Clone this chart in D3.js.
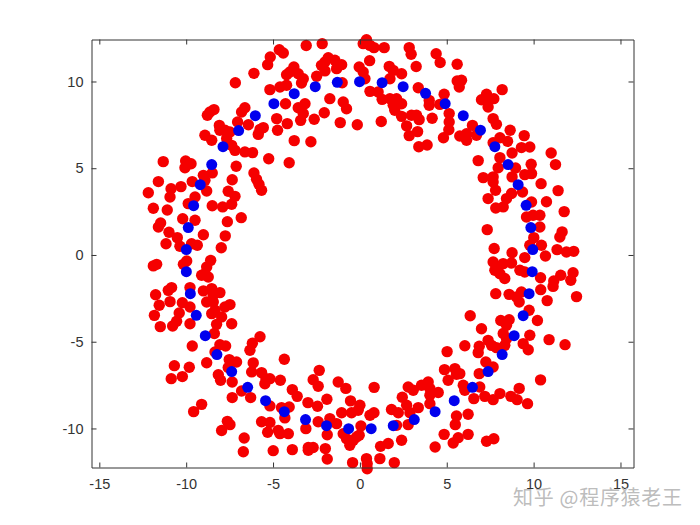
<!DOCTYPE html>
<html><head><meta charset="utf-8">
<script src="https://cdn.jsdelivr.net/npm/d3@7/dist/d3.min.js"></script>
<style>html,body{margin:0;padding:0;background:#fff}svg{display:block}</style>
</head><body><svg id="c" width="700" height="525"></svg>
<script>
const xDomain=[-15.45,15.75];
const yDomain=[-12.25,12.42];
const xTicks=[-15,-10,-5,0,5,10,15];
const yTicks=[-10,-5,0,5,10];
const watermark="知乎 @程序猿老王";
const redX=[-3.09,-2.17,-4.64,-4.41,-5.16,-5.31,-6.10,-7.17,-3.80,-4.03,-4.22,-3.55,-3.26,-3.36,-2.49,-1.82,-2.01,-1.44,-1.05,-2.21,-2.01,-1.34,-1.02,-4.22,-4.60,-5.18,-1.73,-0.96,-0.77,-4.28,-3.16,-3.55,-3.26,-3.41,-2.63,-2.05,-1.13,-4.79,-4.18,-4.74,-3.78,-2.82,-8.40,-8.63,-8.78,-6.62,-6.81,-7.04,-6.42,-5.56,-5.75,-5.85,-8.09,-7.77,-8.06,-7.48,-8.92,-8.53,-7.67,-7.38,-7.19,-6.62,-6.18,-5.25,-4.07,-11.32,-10.03,-9.72,-10.07,-7.12,-8.50,-9.01,-8.92,-6.10,-5.95,-5.81,-5.66,-7.35,-11.60,-10.87,-10.30,-9.65,-8.82,-12.18,-10.93,-7.58,-7.19,-9.49,-9.88,-11.89,-11.09,-8.50,-7.90,-7.38,-6.83,-10.20,-9.49,-7.63,-11.47,-11.60,-10.99,-9.01,-10.51,-7.75,-11.16,-10.36,-9.69,-9.36,-7.98,
0.38,0.19,0.58,0.81,1.40,2.84,2.95,4.39,4.62,5.60,0.56,-0.04,0.19,1.69,1.92,2.40,1.73,3.24,5.85,5.60,5.72,0.29,3.36,4.85,3.99,3.99,4.60,0.58,1.05,1.28,8.19,7.29,7.00,7.38,7.71,7.38,1.73,2.11,2.40,1.92,2.01,2.40,2.97,3.26,3.41,2.69,3.32,2.84,4.16,5.14,5.14,5.12,4.81,1.23,-0.15,7.67,7.86,3.39,3.87,5.75,6.14,6.48,6.14,6.71,8.65,9.46,7.67,8.06,8.50,9.30,9.78,11.01,8.76,6.81,8.06,11.26,9.86,7.96,8.96,9.88,9.49,7.10,7.67,8.76,7.67,10.43,7.81,9.36,11.41,8.73,8.44,7.38,10.74,9.88,8.25,7.82,11.76,9.59,9.97,10.36,10.36,7.33,11.64,11.51,10.01,10.45,9.78,7.73,8.76,11.35,11.89,12.31,10.68,9.49,
-9.97,-10.16,-11.70,-11.89,-8.59,-8.82,-8.92,-9.11,-8.73,-9.78,-10.84,-11.03,-11.76,-9.01,-8.53,-8.06,-8.44,-8.82,-8.44,-10.93,-10.22,-9.78,-11.55,-7.48,-7.77,-8.34,-8.53,-10.40,-11.83,-7.96,-10.55,-10.78,-11.49,-9.78,-7.38,-8.25,-8.38,-5.75,-6.19,-6.33,-8.06,-7.73,-9.65,-8.34,-4.35,-7.10,-7.52,-8.82,-10.68,-9.82,-6.14,-6.23,-7.58,-2.34,-8.15,-8.02,-10.22,-10.86,-5.66,-5.41,-5.18,-5.47,-4.58,-7.35,-2.69,-2.40,-1.25,-0.81,-3.89,-3.61,-6.81,-7.35,-6.29,-1.90,-0.54,-2.99,-2.44,-5.18,-4.07,-4.51,-9.11,-9.57,-1.05,-0.48,-0.10,-4.32,-5.66,-5.18,-7.63,-7.48,-7.96,-2.40,-1.73,-1.34,-3.11,-5.31,-4.70,-4.60,-4.12,-1.88,-6.66,-0.96,-0.77,-0.38,-0.58,-0.19,-2.97,-2.69,-2.97,-3.89,-4.99,-6.71,-1.99,-1.88,-0.42,
7.67,7.96,8.25,8.73,7.77,8.06,8.34,9.21,9.49,10.40,11.56,12.27,11.16,11.12,12.14,10.41,7.82,8.59,9.30,9.01,9.17,10.78,12.47,9.74,6.35,10.22,8.11,8.59,7.00,8.44,8.25,9.78,8.44,10.89,11.81,7.38,7.58,7.86,8.34,9.40,9.69,6.04,6.87,6.81,5.02,7.25,7.67,4.87,5.47,5.56,5.75,6.87,5.08,10.40,5.95,6.04,6.90,9.17,8.06,7.19,7.67,6.56,8.69,9.05,9.65,0.82,2.78,3.07,3.93,3.55,4.03,4.51,4.03,4.03,3.36,2.44,2.69,1.82,2.21,2.88,6.23,5.56,5.49,0.58,0.81,0.00,0.06,2.11,2.78,4.85,6.23,5.66,5.37,7.29,7.71,2.40,1.63,1.19,4.33,-0.04,1.15,1.98,0.38,0.42,0.42];
const redY=[12.07,12.18,11.83,11.64,11.41,10.97,10.47,9.93,10.84,10.55,10.39,10.45,10.16,9.91,10.30,11.37,11.12,11.22,10.97,10.93,10.61,10.74,9.93,9.78,9.68,9.53,9.01,8.82,8.43,8.72,8.72,8.49,8.15,7.76,7.82,8.20,7.63,7.86,7.57,7.19,6.59,6.53,8.38,8.24,8.05,8.49,8.24,7.67,7.51,7.34,7.24,6.95,7.47,7.19,7.19,7.09,6.90,6.61,6.71,6.32,6.03,5.94,5.90,5.55,5.32,5.38,5.42,5.26,5.03,5.11,4.73,4.59,4.30,4.73,4.36,4.07,3.73,4.34,4.23,3.82,3.94,4.23,3.69,3.59,3.34,3.67,3.38,3.34,2.96,2.69,2.59,2.84,2.77,2.92,2.15,2.09,2.00,1.92,1.84,1.61,1.31,1.17,1.00,1.10,0.65,0.50,0.65,0.56,0.42,
12.41,12.18,12.08,11.95,11.95,11.95,11.57,11.60,11.09,10.99,11.20,10.84,10.55,10.87,10.64,10.45,10.16,10.86,10.07,10.03,9.68,10.16,9.64,9.26,8.91,8.63,8.68,9.43,9.39,8.97,9.53,9.26,8.95,8.91,9.01,8.53,9.01,9.01,8.72,8.63,8.34,7.99,8.05,8.05,7.80,7.44,7.11,6.88,7.88,8.15,7.67,7.22,6.76,7.69,7.51,7.86,7.53,6.24,6.34,6.86,6.99,7.47,6.61,6.90,7.19,6.88,6.47,6.76,6.55,6.19,6.22,5.88,5.88,5.44,5.61,5.21,5.23,5.03,5.01,4.69,4.63,4.46,4.50,4.50,4.21,4.11,3.73,3.63,3.71,3.54,3.25,3.25,3.07,3.05,2.77,2.71,2.50,2.19,2.29,2.29,1.61,1.46,1.33,1.04,1.00,0.56,0.56,0.37,0.13,0.31,0.17,0.21,-0.06,-0.15,
-0.35,-0.54,-0.54,-0.63,-0.31,-0.69,-1.08,-1.17,-1.27,-1.88,-1.88,-2.04,-2.29,-2.07,-1.94,-2.17,-2.32,-2.71,-2.71,-2.69,-2.75,-3.00,-2.90,-2.86,-3.00,-3.19,-3.38,-3.34,-3.48,-3.57,-3.82,-4.09,-4.13,-3.96,-3.96,-4.00,-4.53,-4.71,-5.09,-5.49,-5.17,-5.25,-5.25,-5.59,-6.01,-6.17,-6.03,-6.21,-6.38,-6.47,-6.22,-6.74,-6.49,-6.65,-6.90,-7.22,-7.01,-7.13,-6.78,-7.13,-7.13,-7.42,-7.22,-7.32,-7.19,-7.57,-7.32,-7.69,-7.76,-8.15,-7.84,-8.22,-8.22,-8.32,-8.41,-8.51,-8.72,-8.70,-8.76,-8.80,-8.61,-9.03,-9.09,-9.09,-8.95,-9.39,-9.61,-9.66,-9.59,-9.78,-10.12,-9.61,-9.43,-9.72,-10.01,-10.22,-10.11,-10.30,-10.30,-10.36,-10.55,-10.30,-10.59,-10.68,-10.97,-10.49,-11.10,-11.10,-11.26,-11.22,-11.28,-11.34,-11.16,-11.76,-11.97,
-0.40,-0.69,-0.50,-0.46,-0.88,-1.08,-1.36,-0.88,-0.98,-1.31,-1.17,-1.02,-1.50,-1.81,-1.46,-2.00,-2.23,-2.27,-2.13,-2.42,-2.71,-2.63,-2.40,-3.19,-3.50,-3.78,-3.78,-3.73,-4.25,-4.05,-4.53,-4.63,-4.82,-4.88,-5.17,-4.92,-5.21,-5.34,-5.21,-5.11,-5.46,-5.23,-5.26,-5.63,-5.57,-6.17,-6.46,-6.61,-6.55,-6.88,-6.84,-6.84,-7.22,-7.20,-7.51,-7.80,-7.61,-7.69,-7.99,-8.15,-8.34,-8.28,-8.15,-8.34,-8.57,-7.63,-7.61,-7.80,-7.32,-7.51,-7.70,-7.93,-8.09,-8.57,-8.80,-8.20,-8.66,-8.91,-9.09,-9.09,-9.18,-9.28,-9.78,-9.24,-9.09,-8.66,-9.86,-9.82,-9.78,-10.34,-10.34,-10.53,-10.84,-10.74,-10.59,-10.68,-10.87,-11.03,-11.07,-10.39,-11.74,-11.97,-11.74,-12.03,-12.32];
const blueX=[-3.78,-4.95,-2.57,-1.30,-6.02,-6.98,-7.88,-8.53,-9.19,-9.57,-9.88,-9.99,-0.02,1.28,2.49,3.78,4.91,5.95,6.94,7.77,8.53,9.11,9.57,9.84,9.95,-9.99,-9.76,-9.42,-8.90,-8.23,-7.38,-6.46,-5.43,-4.35,-3.13,-1.92,-0.65,9.92,9.74,9.40,8.88,8.19,7.38,6.48,5.43,4.33,3.13,1.92,0.65];
const blueY=[9.30,8.72,9.70,9.95,8.03,7.17,6.24,5.21,4.05,2.84,1.58,0.31,9.99,9.93,9.70,9.32,8.72,8.03,7.19,6.24,5.21,4.05,2.86,1.58,0.31,-0.96,-2.23,-3.48,-4.65,-5.74,-6.72,-7.63,-8.40,-9.03,-9.49,-9.84,-10.01,-0.96,-2.23,-3.50,-4.65,-5.74,-6.72,-7.63,-8.40,-9.03,-9.49,-9.84,-10.01];

const svg=d3.select("#c");
const x=d3.scaleLinear().domain(xDomain).range([91.5,633.5]);
const y=d3.scaleLinear().domain(yDomain).range([467.5,39.5]);
const axisColor="#333333", font="'Liberation Sans',Arial,sans-serif";
const fmt=d=>String(d);

const plot=svg.append("g");
plot.selectAll("circle.r").data(d3.range(redX.length)).join("circle").attr("class","r")
  .attr("cx",i=>x(redX[i])).attr("cy",i=>y(redY[i])).attr("r",5.7).attr("fill","#f50000");
plot.selectAll("circle.b").data(d3.range(blueX.length)).join("circle").attr("class","b")
  .attr("cx",i=>x(blueX[i])).attr("cy",i=>y(blueY[i])).attr("r",5.5).attr("fill","#0000ee");

function style(g){
  g.selectAll("path,line").attr("stroke",axisColor).attr("stroke-width",1);
  g.selectAll("text").attr("fill",axisColor).attr("font-family",font).attr("font-size",14.5);
}
svg.append("g").attr("transform","translate(0,467.5)")
  .call(d3.axisBottom(x).tickValues(xTicks).tickFormat(fmt).tickSize(-5).tickSizeOuter(0).tickPadding(11)).call(style);
svg.append("g").attr("transform","translate(0,39.5)")
  .call(d3.axisTop(x).tickValues(xTicks).tickFormat("").tickSize(-5).tickSizeOuter(0)).call(style);
svg.append("g").attr("transform","translate(91.5,0)")
  .call(d3.axisLeft(y).tickValues(yTicks).tickFormat(fmt).tickSize(-5).tickSizeOuter(0).tickPadding(8)).call(style);
svg.append("g").attr("transform","translate(633.5,0)")
  .call(d3.axisRight(y).tickValues(yTicks).tickFormat("").tickSize(-5).tickSizeOuter(0)).call(style);

svg.append("text").attr("x",513).attr("y",505).text(watermark)
  .attr("font-family","'Noto Sans CJK SC',sans-serif").attr("font-size",20)
  .attr("letter-spacing",0.7)
  .attr("fill","#b4b4b4").attr("fill-opacity",0.9);
</script></body></html>
